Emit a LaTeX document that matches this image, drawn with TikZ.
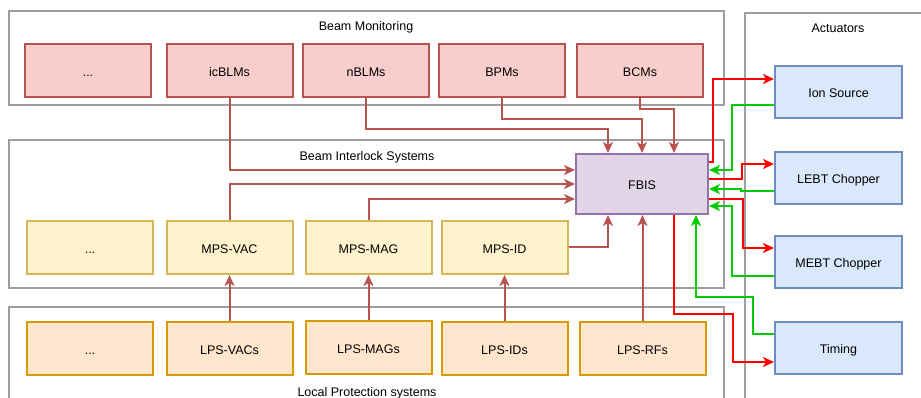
\documentclass[tikz,border=0pt]{standalone}
\usepackage{fontspec}
\setmainfont{Liberation Sans}
\usetikzlibrary{arrows.meta}

\definecolor{bmfill}{HTML}{F8CECC}
\definecolor{bmline}{HTML}{B85450}
\definecolor{mpsfill}{HTML}{FFF2CC}
\definecolor{mpsline}{HTML}{D6B656}
\definecolor{lpsfill}{HTML}{FFE6CC}
\definecolor{lpsline}{HTML}{D79B00}
\definecolor{fbisfill}{HTML}{E1D5E7}
\definecolor{fbisline}{HTML}{9673A6}
\definecolor{actfill}{HTML}{DAE8FC}
\definecolor{actline}{HTML}{6C8EBF}
\definecolor{groupline}{HTML}{9E9E9E}
\definecolor{tripred}{HTML}{FF0000}
\definecolor{okgreen}{HTML}{00CC00}

\tikzset{
  lbl/.style={font=\fontsize{12.5}{14}\selectfont, inner sep=0pt, text height=12pt, text depth=0pt},
  unit/.style={draw, line width=2pt, minimum width=126pt, minimum height=53pt,
    inner sep=0pt, text height=12pt, text depth=0pt, font=\fontsize{12.5}{14}\selectfont},
  bmbox/.style={unit, fill=bmfill, draw=bmline},
  mpsbox/.style={unit, fill=mpsfill, draw=mpsline},
  lpsbox/.style={unit, fill=lpsfill, draw=lpsline},
  actbox/.style={unit, fill=actfill, draw=actline, minimum width=127pt, minimum height=52pt},
  fbisbox/.style={unit, fill=fbisfill, draw=fbisline, minimum width=132pt, minimum height=60pt},
  group/.style={draw=groupline, line width=2pt},
  tip/.style={-{Stealth[length=11pt,width=10pt,inset=3pt]}},
  sig/.style={tip, draw=bmline, line width=2pt},
  trip/.style={tip, draw=tripred, line width=2pt},
  ok/.style={tip, draw=okgreen, line width=2pt},
}

\begin{document}
\begin{tikzpicture}[x=1pt, y=-1pt]
\useasboundingbox (0,0) rectangle (921,398);
\clip (0,0) rectangle (921,398);
\fill[white] (0,0) rectangle (921,398);

% group frames
\draw[group] (9,11) rectangle (724,105);
\draw[group] (9,140) rectangle (724,288);
\draw[group] (9,307) rectangle (724,420);
\draw[group] (745,13) rectangle (940,420);

\node[lbl] (tbm) at (366,24.5) {Beam Monitoring};
\node[lbl] (tbis) at (367,154.5) {Beam Interlock Systems};
\node[lbl] (tlps) at (367,390.5) {Local Protection systems};
\node[lbl] (tact) at (838,26.5) {Actuators};

% beam monitoring
\node[bmbox] (bmx)  at (88,70.5)   {...};
\node[bmbox] (icblm) at (229.5,70.5) {icBLMs};
\node[bmbox] (nblm) at (366,70.5)  {nBLMs};
\node[bmbox] (bpm)  at (502,70.5)  {BPMs};
\node[bmbox] (bcm)  at (640,70.5)  {BCMs};

% machine protection systems
\node[mpsbox] (mpsx)   at (90,247.5)    {...};
\node[mpsbox] (mpsvac) at (229.5,247.5) {MPS-VAC};
\node[mpsbox] (mpsmag) at (368.5,247.5) {MPS-MAG};
\node[mpsbox] (mpsid)  at (504.5,247.5) {MPS-ID};

% local protection systems
\node[lpsbox] (lpsx)   at (90,348.5)    {...};
\node[lpsbox] (lpsvac) at (229.5,348.5) {LPS-VACs};
\node[lpsbox] (lpsmag) at (368.5,347.5) {LPS-MAGs};
\node[lpsbox] (lpsid)  at (504.5,348.5) {LPS-IDs};
\node[lpsbox] (lpsrf)  at (642.5,348.5) {LPS-RFs};

% fast beam interlock
\node[fbisbox] (fbis) at (642,184) {FBIS};

% actuators
\node[actbox] (ion)    at (838.5,92)    {Ion Source};
\node[actbox] (lebt)   at (838.5,178)   {LEBT Chopper};
\node[actbox] (mebt)   at (838.5,262)   {MEBT Chopper};
\node[actbox] (timing) at (838.5,347.5) {Timing};

% inputs to FBIS
\draw[sig] (icblm.south) |- ([yshift=14pt]fbis.west);
\draw[sig] (mpsvac.north) |- (fbis.west);
\draw[sig] (mpsmag.north) |- ([yshift=-15pt]fbis.west);
\draw[sig] (nblm.south) -- ++(0,31.5) -| ([xshift=-34pt]fbis.north);
\draw[sig] (bpm.south) -- ++(0,21) -| (fbis.north);
\draw[sig] (bcm.south) -- ++(0,11) -| ([xshift=32pt]fbis.north);
\draw[sig] (mpsid.east) -| ([xshift=-34pt]fbis.south);
\draw[sig] (lpsrf.north) -- (lpsrf.north |- fbis.south);

% local to machine protection
\draw[sig] (lpsvac.north) -- (mpsvac.south);
\draw[sig] (lpsmag.north) -- (mpsmag.south);
\draw[sig] (lpsid.north) -- (mpsid.south);

% FBIS to actuators and back
\draw[trip] ([yshift=22pt]fbis.east) -- ++(4,0) |- ([yshift=13pt]ion.west);
\draw[ok] ([yshift=-13pt]ion.west) -- ++(-42,0) |- ([yshift=14pt]fbis.east);
\draw[trip] ([yshift=5pt]fbis.east) -- ++(33,0) |- ([yshift=14pt]lebt.west);
\draw[ok] ([yshift=-13pt]lebt.west) -- ++(-33,0) |- ([yshift=-5pt]fbis.east);
\draw[trip] ([yshift=-15pt]fbis.east) -- ++(34,0) |- ([yshift=14pt]mebt.west);
\draw[ok] ([yshift=-14pt]mebt.west) -- ++(-42,0) |- ([yshift=-22pt]fbis.east);
\draw[trip] ([xshift=32pt]fbis.south) -- ++(0,99) -- ++(59,0) |- ([yshift=-14.5pt]timing.west);
\draw[ok] ([yshift=13.5pt]timing.west) -- ++(-21,0) -- ++(0,-37) -| ([xshift=54pt]fbis.south);
\end{tikzpicture}
\end{document}
